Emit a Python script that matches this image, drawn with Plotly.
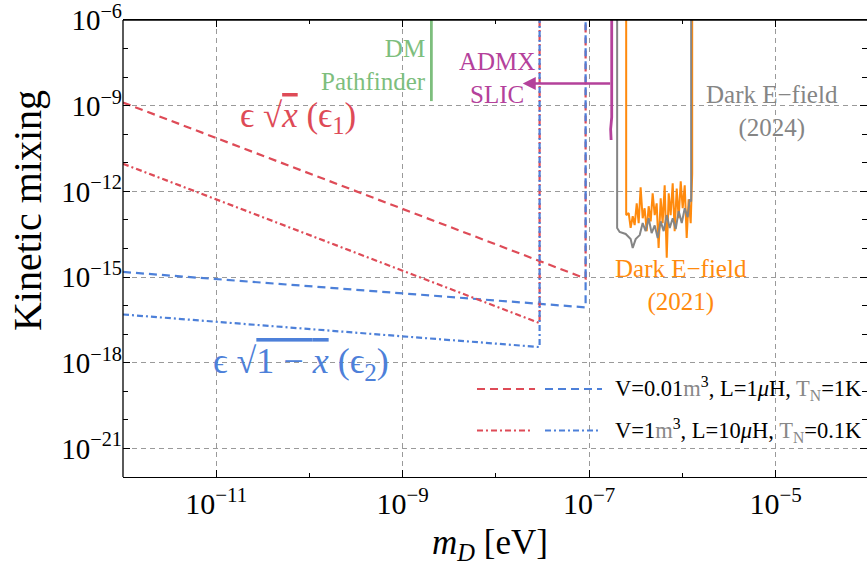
import numpy as np
import plotly.graph_objects as go

# ---------------- data ----------------
# reach curves (V=0.01 m^3 dashed, V=1 m^3 dash-dot)
m_eps1_v001 = [1e-12, 9.16e-8, 9.16e-8]
k_eps1_v001 = [1.29e-9, 8.9e-16, 1e-6]
m_eps2_v001 = [1e-12, 9.16e-8, 9.16e-8]
k_eps2_v001 = [1.51e-15, 8.7e-17, 1e-6]
m_eps1_v1 = [1e-12, 2.94e-8, 2.94e-8]
k_eps1_v1 = [9.3e-12, 2.45e-17, 1e-6]
m_eps2_v1 = [1e-12, 2.94e-8, 2.94e-8]
k_eps2_v1 = [4.9e-17, 3.55e-18, 1e-6]

# DM Pathfinder
m_dmp = [2.03e-9, 2.03e-9]
k_dmp = [1e-6, 1.45e-9]

# ADMX SLIC
m_admx = [1.745e-7, 1.745e-7, 1.70e-7, 1.72e-7]
k_admx = [1e-6, 4.0e-10, 1.5e-10, 6.3e-11]

# Dark E-field (2024) exponents
lm_2024 = [-6.700, -6.700, -6.673, -6.608, -6.555, -6.533, -6.501, -6.458, -6.426, -6.394,
           -6.362, -6.330, -6.297, -6.265, -6.233, -6.201, -6.168, -6.136, -6.104, -6.072,
           -6.040, -6.007, -5.975, -5.943, -5.922, -5.906, -5.906]
lk_2024 = [-6.0, -13.28, -13.42, -13.49, -13.67, -13.98, -13.67, -13.53, -13.11, -13.39,
           -12.94, -13.46, -13.19, -13.63, -13.05, -13.39, -12.83, -13.28, -12.94, -13.32,
           -12.69, -13.11, -12.59, -12.90, -12.28, -12.35, -6.0]

# Dark E-field (2021) exponents
lm_2021 = [-6.603, -6.603, -6.576, -6.555, -6.533, -6.512, -6.490, -6.469, -6.448, -6.426,
           -6.405, -6.383, -6.362, -6.340, -6.319, -6.297, -6.276, -6.255, -6.233, -6.212,
           -6.190, -6.168, -6.147, -6.126, -6.104, -6.083, -6.061, -6.040, -6.018, -5.997,
           -5.975, -5.954, -5.933, -5.911, -5.895, -5.895]
lk_2021 = [-6.0, -12.83, -12.76, -13.28, -12.87, -13.18, -12.42, -13.11, -11.86, -12.94,
           -12.59, -13.39, -12.52, -13.05, -12.07, -12.83, -12.42, -13.98, -12.24, -13.11,
           -11.79, -14.32, -12.07, -12.83, -11.72, -13.39, -11.90, -12.94, -11.65, -12.59,
           -11.79, -13.63, -12.28, -13.11, -11.38, -6.0]

x_ticks = [1e-11, 1e-9, 1e-7, 1e-5]
x_ticktext = ["10<sup>\u221211</sup>", "10<sup>\u22129</sup>", "10<sup>\u22127</sup>", "10<sup>\u22125</sup>"]
y_ticks = [1e-21, 1e-18, 1e-15, 1e-12, 1e-9, 1e-6]
y_ticktext = ["10<sup>\u221221</sup>", "10<sup>\u221218</sup>", "10<sup>\u221215</sup>",
              "10<sup>\u221212</sup>", "10<sup>\u22129</sup>", "10<sup>\u22126</sup>"]
x_minor = [10.0 ** e for e in range(-12, -3)]
y_minor = [10.0 ** e for e in range(-22, -5)]

# ---------------- style ----------------
RED = "#DE4B57"
BLUE = "#4D80D9"
GREEN = "#7DBE7D"
MAG = "#B4419B"
ORANGE = "#FF8A0D"
GRAY = "#858585"
FONT = "Liberation Serif"
DASH = "8px,5px"
DASHDOT = "6px,3px,2px,3px"

fig = go.Figure()

def add_line(x, y, color, dash="solid", width=2.2):
    fig.add_trace(go.Scatter(x=x, y=y, mode="lines", showlegend=False,
                             line=dict(color=color, dash=dash, width=width),
                             hoverinfo="skip"))

add_line(m_eps1_v001, k_eps1_v001, RED, DASH)
add_line(m_eps2_v001, k_eps2_v001, BLUE, DASH)
add_line(m_eps1_v1, k_eps1_v1, RED, DASHDOT)
add_line(m_eps2_v1, k_eps2_v1, BLUE, DASHDOT)
add_line(m_dmp, k_dmp, GREEN, width=2.8)
add_line(m_admx, k_admx, MAG, width=2.8)
add_line([10 ** v for v in lm_2021], [10 ** v for v in lk_2021], ORANGE, width=2.0)
add_line([10 ** v for v in lm_2024], [10 ** v for v in lk_2024], GRAY, width=2.0)

L = np.log10

anns = []
def text(x, y, s, color, size, align="center", xanchor="center"):
    anns.append(dict(x=L(x), y=L(y), xref="x", yref="y", text=s, showarrow=False,
                     font=dict(family=FONT, size=size, color=color), align=align,
                     xanchor=xanchor, yanchor="middle"))

text(7.6e-11, 3.9e-10, "\u03f5 \u221a<span style='text-decoration:overline'><i>x</i></span> (\u03f5<sub>1</sub>)", RED, 35)
text(8.1e-11, 9.3e-19, "\u03f5 \u221a<span style='text-decoration:overline'>1 \u2212 <i>x</i></span> (\u03f5<sub>2</sub>)", BLUE, 36)
anns.append(dict(x=L(1.85e-9), y=L(2.64e-8), xref="x", yref="y", text="DM<br>Pathfinder",
                 showarrow=False, font=dict(family=FONT, size=25, color=GREEN),
                 align="right", xanchor="right", yanchor="middle"))
text(1.016e-8, 9.0e-9, "ADMX<br>SLIC", MAG, 25)
text(9.08e-6, 6.2e-10, "Dark E\u2212field<br>(2024)", GRAY, 25)
text(9.75e-7, 5.0e-16, "Dark E\u2212field<br>(2021)", ORANGE, 25)

# arrow of ADMX SLIC
anns.append(dict(x=L(1.94e-8), y=L(6.0e-9), ax=L(1.745e-7), ay=L(6.0e-9),
                 xref="x", yref="y", axref="x", ayref="y", text="", showarrow=True,
                 arrowhead=2, arrowsize=1.0, arrowwidth=2.6, arrowcolor=MAG))

# axis titles (as annotations for exact placement)
anns.append(dict(x=-0.129, y=0.582, xref="paper", yref="paper", text="Kinetic mixing",
                 showarrow=False, textangle=-90, font=dict(family=FONT, size=40, color="black"),
                 xanchor="center", yanchor="middle"))
anns.append(dict(x=0.493, y=-0.147, xref="paper", yref="paper",
                 text="<i>m</i><sub><i>D</i></sub> [eV]", showarrow=False,
                 font=dict(family=FONT, size=35, color="black"), xanchor="center", yanchor="middle"))

# legend (drawn manually)
shapes = []
leg_rows = [(0.1926, DASH, "V=0.01<span style='color:#888'>m</span><sup>3</sup>, L=1<i>\u03bc</i>H, <span style='color:#888'>T<sub>N</sub></span>=1K"),
            (0.1017, DASHDOT, "V=1<span style='color:#888'>m</span><sup>3</sup>, L=10<i>\u03bc</i>H, <span style='color:#888'>T<sub>N</sub></span>=0.1K")]
for yy, dsh, lab in leg_rows:
    shapes.append(dict(type="line", xref="paper", yref="paper", x0=0.4758, x1=0.5538 if dsh == DASH else 0.547,
                       y0=yy, y1=yy, line=dict(color=RED, width=2.2, dash=dsh)))
    shapes.append(dict(type="line", xref="paper", yref="paper", x0=0.5672, x1=0.6438 if dsh == DASH else 0.6384,
                       y0=yy, y1=yy, line=dict(color=BLUE, width=2.2, dash=dsh)))
    anns.append(dict(x=0.659, y=yy, xref="paper", yref="paper", text=lab, showarrow=False,
                     font=dict(family=FONT, size=22.5, color="black"), xanchor="left", yanchor="middle"))

# frame lines: top and left (the right side of the frame lies just past the picture edge)
shapes.append(dict(type="line", xref="paper", yref="paper", x0=0, x1=1, y0=1, y1=1,
                   line=dict(color="black", width=1.3)))
shapes.append(dict(type="line", xref="paper", yref="paper", x0=0, x1=0, y0=0, y1=1,
                   line=dict(color="black", width=1.3)))

fig.update_layout(
    width=867, height=568,
    margin=dict(l=123, r=0, t=15, b=91),
    paper_bgcolor="white", plot_bgcolor="white",
    font=dict(family=FONT, color="black"),
    annotations=anns, shapes=shapes,
    xaxis=dict(type="log", range=[-12, -4.02], showline=True, linecolor="black", linewidth=1.3,
               mirror="ticks", ticks="inside", ticklen=7, tickcolor="black",
               tickvals=x_ticks, ticktext=x_ticktext, tickfont=dict(family=FONT, size=30),
               showgrid=True, gridcolor="#9a9a9a", griddash="5px,4px", gridwidth=1,
               zeroline=False, ticklabeloverflow="allow",
               minor=dict(tickvals=x_minor, ticks="inside", ticklen=4, tickcolor="black", showgrid=False)),
    yaxis=dict(type="log", range=[-22, -5.999], showline=False,
               mirror="ticks", ticks="inside", ticklen=7, tickcolor="black",
               tickvals=y_ticks, ticktext=y_ticktext, tickfont=dict(family=FONT, size=29),
               showgrid=True, gridcolor="#9a9a9a", griddash="5px,4px", gridwidth=1,
               zeroline=False, ticklabeloverflow="allow",
               minor=dict(tickvals=y_minor, ticks="inside", ticklen=5, tickcolor="black", showgrid=False)),
)

# the default page body margin would shift the figure by 8px; remove it
fig.write_html("out.html", config={"displayModeBar": False},
               post_script="document.body.style.margin='0';")
